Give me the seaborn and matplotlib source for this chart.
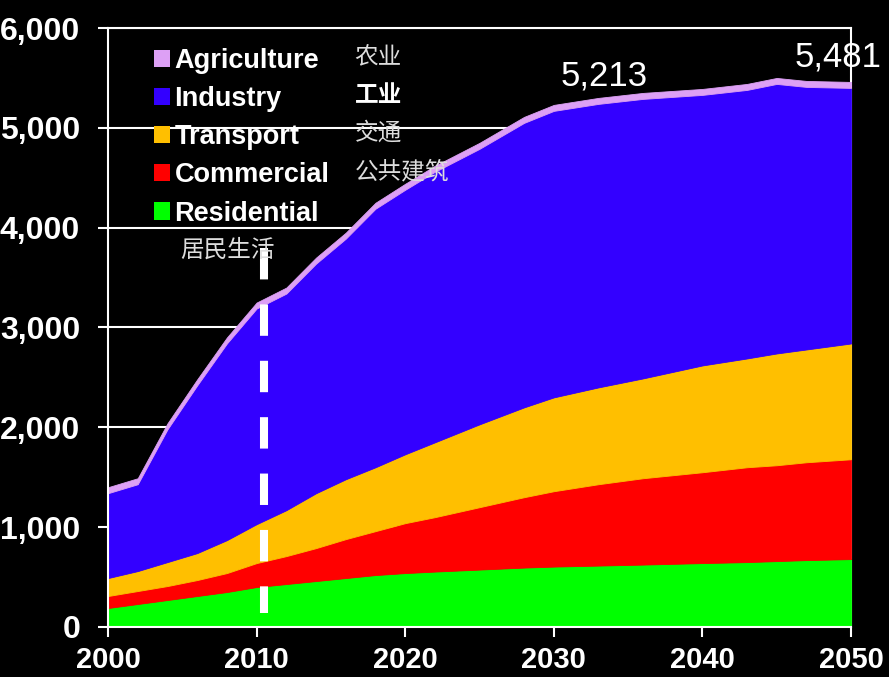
import matplotlib
matplotlib.use('Agg')
import matplotlib.pyplot as plt
import seaborn as sns
from matplotlib.patches import Patch

# data (stacked values per sector)
years = [2000, 2002, 2004, 2006, 2008, 2010, 2012, 2014, 2016, 2018, 2020,
         2022, 2025, 2028, 2030, 2033, 2036, 2040, 2043, 2045, 2047, 2050]
residential = [190, 230, 270, 310, 350, 400, 430, 460, 490, 520, 540,
               555, 575, 595, 605, 615, 625, 640, 650, 660, 670, 680]
commercial = [120, 130, 140, 160, 190, 240, 280, 330, 390, 440, 500,
              545, 625, 705, 755, 815, 865, 910, 950, 960, 980, 1000]
transport = [180, 200, 240, 270, 330, 390, 460, 550, 600, 640, 690,
             750, 830, 900, 940, 970, 1000, 1070, 1090, 1120, 1130, 1160]
industry = [850, 870, 1330, 1680, 1970, 2160, 2170, 2300, 2410, 2590, 2650,
            2710, 2760, 2850, 2870, 2840, 2800, 2710, 2690, 2700, 2630, 2560]
agriculture = [60] * len(years)

series_en = ['Agriculture', 'Industry', 'Transport', 'Commercial', 'Residential']
series_cn = ['农业', '工业', '交通', '公共建筑', '居民生活']
colors = {'Agriculture': '#dda0f5', 'Industry': '#3300ff', 'Transport': '#ffbf00',
          'Commercial': '#ff0000', 'Residential': '#00ff00'}
y_ticks = [0, 1000, 2000, 3000, 4000, 5000, 6000]
x_ticks = [2000, 2010, 2020, 2030, 2040, 2050]
callouts = [(2033.4, 5520, '5,213'), (2049.1, 5710, '5,481')]

sns.set_theme(style='dark', rc={'axes.facecolor': 'black', 'figure.facecolor': 'black'})
plt.rcParams['font.family'] = ['Liberation Sans', 'DejaVu Sans']

fig = plt.figure(figsize=(8.89, 6.77), dpi=100)
ax = fig.add_axes([0.1215, 0.0739, 0.8358, 0.8847])

stack = ax.stackplot(years, residential, commercial, transport, industry, agriculture,
                     colors=[colors['Residential'], colors['Commercial'], colors['Transport'],
                             colors['Industry'], colors['Agriculture']],
                     zorder=1)
for poly in stack:
    poly.set_edgecolor(poly.get_facecolor())
    poly.set_linewidth(0.6)

ax.set_xlim(2000, 2050)
ax.set_ylim(0, 6000)
ax.set_xticks(x_ticks)
ax.set_yticks(y_ticks)
ax.set_yticklabels([f'{v:,}' for v in y_ticks], fontsize=23, fontweight='bold', color='white')
ax.set_xticklabels([str(v) for v in x_ticks], fontsize=21, fontweight='bold', color='white')
ax.tick_params(axis='y', length=7, width=1.5, color='white', pad=13, left=True)
ax.tick_params(axis='x', length=7, width=1.5, color='white', pad=7, bottom=True)

ax.set_axisbelow(True)
ax.grid(axis='y', color='white', linewidth=1.5)
ax.grid(axis='x', visible=False)
for side in ['left', 'bottom', 'top', 'right']:
    ax.spines[side].set_visible(True)
    ax.spines[side].set_color('white')
    ax.spines[side].set_linewidth(1.5)
ax.spines['right'].set_zorder(0.5)

# dashed marker at 2010
ax.plot([2010.5, 2010.5], [3800, 140], color='white', linewidth=5.8,
        dashes=(3.9, 3.1), solid_capstyle='butt', dash_capstyle='butt', zorder=3)

# legend
handles = [Patch(facecolor=colors[s], edgecolor='none') for s in series_en]
leg = ax.legend(handles, series_en, loc='upper left', bbox_to_anchor=(0.062, 0.967),
                frameon=False, borderpad=0, borderaxespad=0, handlelength=0.6,
                handleheight=0.6, handletextpad=0.15, labelspacing=0.45,
                prop={'size': 19.5, 'weight': 'bold'})
for t in leg.get_texts():
    t.set_color('white')

cn_pos = [(0.332, 0.952), (0.332, 0.888), (0.332, 0.825), (0.332, 0.760), (0.097, 0.629)]
for i, (lbl, (px, py)) in enumerate(zip(series_cn, cn_pos)):
    ax.text(px, py, lbl, transform=ax.transAxes, ha='left', va='center', fontsize=17,
            color='white' if i == 1 else '#dddddd', fontweight='bold' if i == 1 else 'light',
            family=['Noto Sans CJK SC', 'DejaVu Sans'])

for x, y, s in callouts:
    ax.text(x, y, s, ha='center', va='center', fontsize=25, color='white', clip_on=False)

fig.savefig('out.png', dpi=100, facecolor='black')
